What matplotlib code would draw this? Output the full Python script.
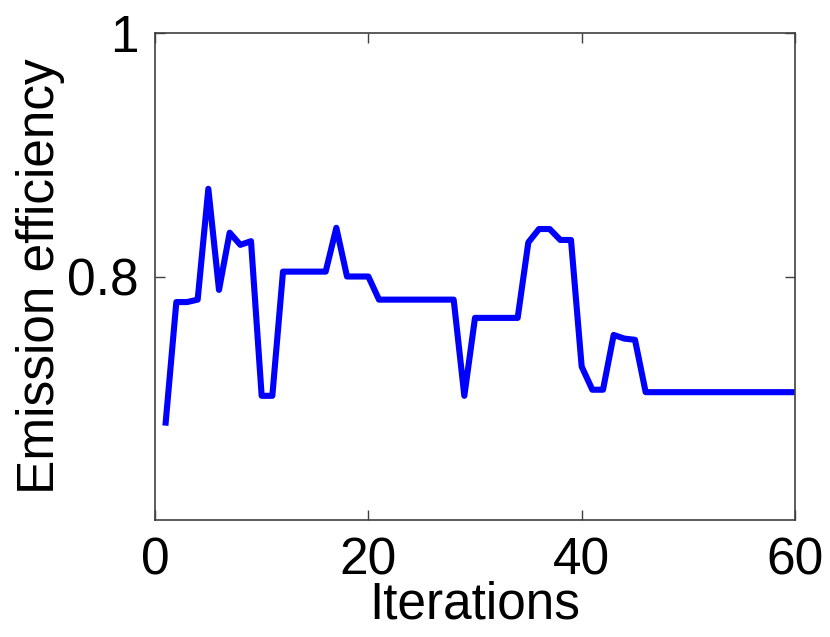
import matplotlib
matplotlib.use("Agg")
import matplotlib.pyplot as plt

iterations = list(range(1, 61))
efficiency = [0.680, 0.779, 0.779, 0.781, 0.872, 0.789, 0.836, 0.826, 0.829, 0.702,
              0.702, 0.804, 0.804, 0.804, 0.804, 0.804, 0.840, 0.800, 0.800, 0.800,
              0.781, 0.781, 0.781, 0.781, 0.781, 0.781, 0.781, 0.781, 0.702, 0.766,
              0.766, 0.766, 0.766, 0.766, 0.828, 0.839, 0.839, 0.830, 0.830, 0.726,
              0.707, 0.707, 0.752, 0.749, 0.748, 0.705, 0.705, 0.705, 0.705, 0.705,
              0.705, 0.705, 0.705, 0.705, 0.705, 0.705, 0.705, 0.705, 0.705, 0.705]
xticks = [0, 20, 40, 60]
yticks = [0.8, 1.0]
yticklabels = ["0.8", "1"]

plt.rcParams['font.family'] = ['Liberation Sans', 'DejaVu Sans']

fig = plt.figure(figsize=(8.3, 6.37), dpi=100)
ax = fig.add_axes([155/830, 1-520/637, 640/830, (520-33)/637])
ax.plot(iterations, efficiency, color='#0000ff', linewidth=4.4)
ax.set_xlim(0, 60)
ax.set_ylim(0.6, 1.0)
ax.set_xticks(xticks)
ax.set_yticks(yticks)
ax.set_yticklabels(yticklabels)
ax.tick_params(direction='in', length=7, width=1, labelsize=37, pad=12,
               colors='#404040', labelcolor='black',
               top=True, right=True)
for s in ax.spines.values():
    s.set_color('#404040')
    s.set_linewidth(1.2)
ax.set_xlabel("Iterations", fontsize=37, labelpad=-4)
ax.set_ylabel("Emission efficiency", fontsize=37, labelpad=1)
fig.savefig("out.png", dpi=100)
